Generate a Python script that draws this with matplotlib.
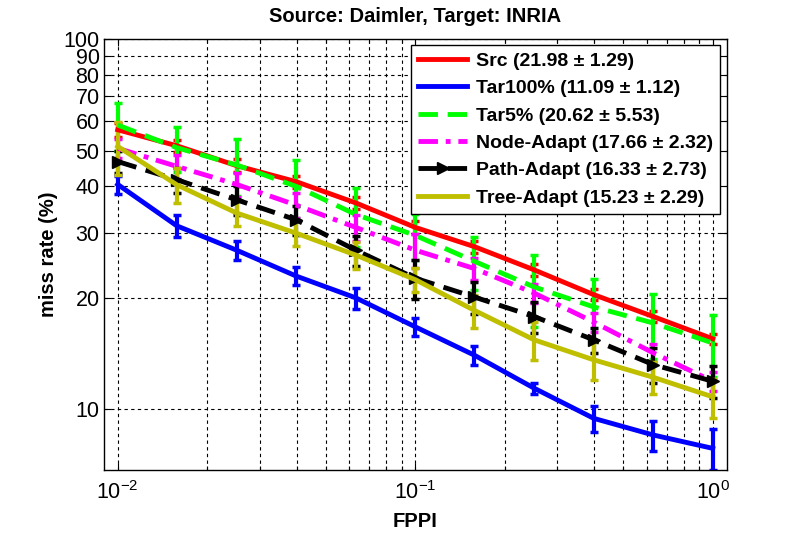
import matplotlib
matplotlib.use('Agg')
import matplotlib.pyplot as plt
from matplotlib.ticker import FixedLocator, NullLocator, NullFormatter, LogFormatterSciNotation

plt.rcParams['font.family'] = ['Liberation Sans', 'DejaVu Sans']
plt.rcParams['mathtext.fontset'] = 'custom'
plt.rcParams['mathtext.rm'] = 'Liberation Sans'

# FPPI sample points
fppi = [0.01, 0.0158, 0.0251, 0.0398, 0.0631, 0.1, 0.158, 0.251, 0.398, 0.631, 1.0]

# miss rate (%) per method, with error bar half-lengths
src = [56.9, 51.5, 45.5, 41.2, 36.1, 31.0, 27.5, 23.8, 20.4, 17.8, 15.5]
src_err = [2.5, 2.0, 1.8, 1.6, 1.4, 1.2, 1.0, 0.9, 0.7, 0.6, 0.5]
tar100 = [40.5, 31.3, 26.9, 22.9, 20.0, 16.7, 14.0, 11.4, 9.45, 8.52, 7.84]
tar100_err = [2.3, 2.1, 1.6, 1.3, 1.3, 0.95, 0.8, 0.4, 0.75, 0.8, 1.0]
tar5 = [58.6, 50.9, 45.7, 40.0, 33.6, 29.5, 25.1, 21.4, 18.9, 17.1, 15.1]
tar5_err = [8.8, 7.1, 8.0, 7.2, 6.1, 4.2, 4.1, 4.7, 3.6, 3.4, 2.9]
node = [50.7, 45.3, 40.5, 35.6, 31.0, 26.9, 24.0, 20.6, 17.2, 14.2, 11.9]
node_err = [3.0, 3.3, 3.0, 2.8, 2.5, 2.8, 1.6, 1.2, 1.0, 0.8, 0.7]
path = [46.7, 41.7, 36.8, 32.5, 26.9, 22.6, 20.1, 17.8, 15.4, 13.2, 11.9]
path_err = [3.3, 3.2, 3.3, 2.9, 2.5, 2.7, 2.0, 1.7, 1.2, 1.4, 1.2]
tree = [51.3, 40.4, 33.9, 29.9, 26.1, 22.4, 18.5, 15.4, 13.6, 12.2, 10.8]
tree_err = [8.3, 4.4, 2.6, 2.3, 2.2, 1.7, 1.9, 1.8, 1.6, 1.2, 1.3]

labels = ['Src (21.98 \u00b1 1.29)', 'Tar100% (11.09 \u00b1 1.12)', 'Tar5% (20.62 \u00b1 5.53)',
          'Node-Adapt (17.66 \u00b1 2.32)', 'Path-Adapt (16.33 \u00b1 2.73)', 'Tree-Adapt (15.23 \u00b1 2.29)']

fig = plt.figure(figsize=(8.03, 5.36), dpi=100)
ax = fig.add_axes([0.130, 0.123, 0.775, 0.804])
ax.set_xscale('log')
ax.set_yscale('log')

lw = 3.5
series = [
    (src, src_err, (1, 0, 0), '-', None, None),
    (tar100, tar100_err, (0, 0, 1), '-', None, None),
    (tar5, tar5_err, (0, 1, 0), '--', (4, 2), None),
    (node, node_err, (1, 0, 1), '-.', (4, 1.6, 1, 1.6), None),
    (path, path_err, (0, 0, 0), '--', (4, 2), '>'),
    (tree, tree_err, (0.75, 0.75, 0), '-', None, None),
]

handles = []
for (vals, err, col, ls, dashes, mk), lab in zip(series, labels):
    ax.errorbar(fppi, vals, yerr=err, fmt='none', ecolor=col, elinewidth=3,
                capsize=3, capthick=2.5, zorder=2)
    kw = dict(color=col, lw=lw, linestyle=ls, label=lab, zorder=3)
    if dashes is not None:
        kw['dashes'] = dashes
    if mk is not None:
        kw.update(marker=mk, markersize=9, markerfacecolor=col, markeredgecolor=col)
    h, = ax.plot(fppi, vals, **kw)
    handles.append(h)

ax.set_xlim(0.00902, 1.114)
ax.set_ylim(6.85, 100)

ax.yaxis.set_major_locator(FixedLocator([10, 20, 30, 40, 50, 60, 70, 80, 90, 100]))
ax.yaxis.set_major_formatter(plt.FuncFormatter(lambda v, p: '%d' % round(v)))
ax.yaxis.set_minor_locator(NullLocator())
ax.yaxis.set_minor_formatter(NullFormatter())
ax.xaxis.set_major_locator(FixedLocator([0.01, 0.1, 1.0]))
ax.xaxis.set_major_formatter(LogFormatterSciNotation())
minors = [m * d for d in (0.01, 0.1) for m in range(2, 10)]
ax.xaxis.set_minor_locator(FixedLocator(minors))
ax.xaxis.set_minor_formatter(NullFormatter())

ax.grid(True, which='both', linestyle=(0, (3, 3)), color='black', linewidth=0.8)
ax.tick_params(which='both', direction='in', top=True, right=True, labelsize=15.5, length=5, width=0.8)
ax.tick_params(axis='x', pad=8)
ax.tick_params(which='minor', length=3)
for s in ax.spines.values():
    s.set_linewidth(1.0)

ax.set_xlabel('FPPI', fontsize=14.5, fontweight='bold', labelpad=6)
ax.set_ylabel('miss rate (%)', fontsize=14.5, fontweight='bold', labelpad=4)
ax.set_title('Source: Daimler, Target: INRIA', fontsize=14.5, fontweight='bold', pad=12)

leg = ax.legend(handles=handles, loc='upper right', bbox_to_anchor=(1.005, 1.009),
                prop={'size': 14, 'weight': 'bold'}, handlelength=2.5, handletextpad=0.45,
                labelspacing=0.5, borderpad=0.38, fancybox=False, framealpha=1,
                edgecolor='black')
leg.get_frame().set_linewidth(1.0)

fig.savefig('out.png', dpi=100)
